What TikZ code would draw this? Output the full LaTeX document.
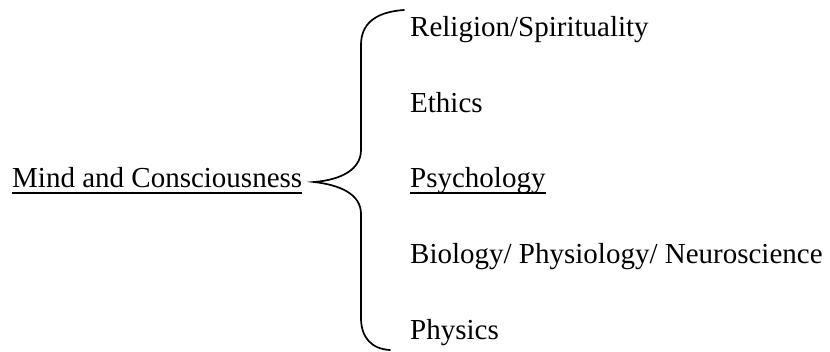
\documentclass[tikz,border=0pt]{standalone}
\usepackage{fontspec}
\setmainfont{Liberation Serif}
\begin{document}
\begin{tikzpicture}[x=1pt,y=-1pt,
  lbl/.style={inner sep=0pt,anchor=base west,font=\fontsize{29}{34}\selectfont},
  uline/.style={line width=1.5pt},
  bracestroke/.style={line width=1.7pt,line cap=round}]
\useasboundingbox[fill=white] (0,0) rectangle (830,352);
\node[lbl] (mind) at (12,188) {Mind and Consciousness};
\node[lbl] (rel) at (410,37) {Religion/Spirituality};
\node[lbl] (eth) at (410,113) {Ethics};
\node[lbl] (psy) at (410,188) {Psychology};
\node[lbl] (bio) at (410,264) {Biology/ Physiology/ Neuroscience};
\node[lbl] (phy) at (410,340) {Physics};
\draw[uline] ([yshift=-5pt]mind.base west) -- ([yshift=-5pt]mind.base east);
\draw[uline] ([yshift=-5pt]psy.base west) -- ([yshift=-5pt]psy.base east);
\coordinate (top) at (404,10);
\coordinate (tip) at (314,182);
\coordinate (bot) at (390,350);
\draw[bracestroke] (top) .. controls (375,12) and (361,24) .. (361,45) -- (361,150)
  .. controls (361,170) and (340,180) .. (tip)
  .. controls (340,185) and (361,194) .. (361,214) -- (361,318)
  .. controls (361,338) and (372,349) .. (bot);
\end{tikzpicture}
\end{document}
